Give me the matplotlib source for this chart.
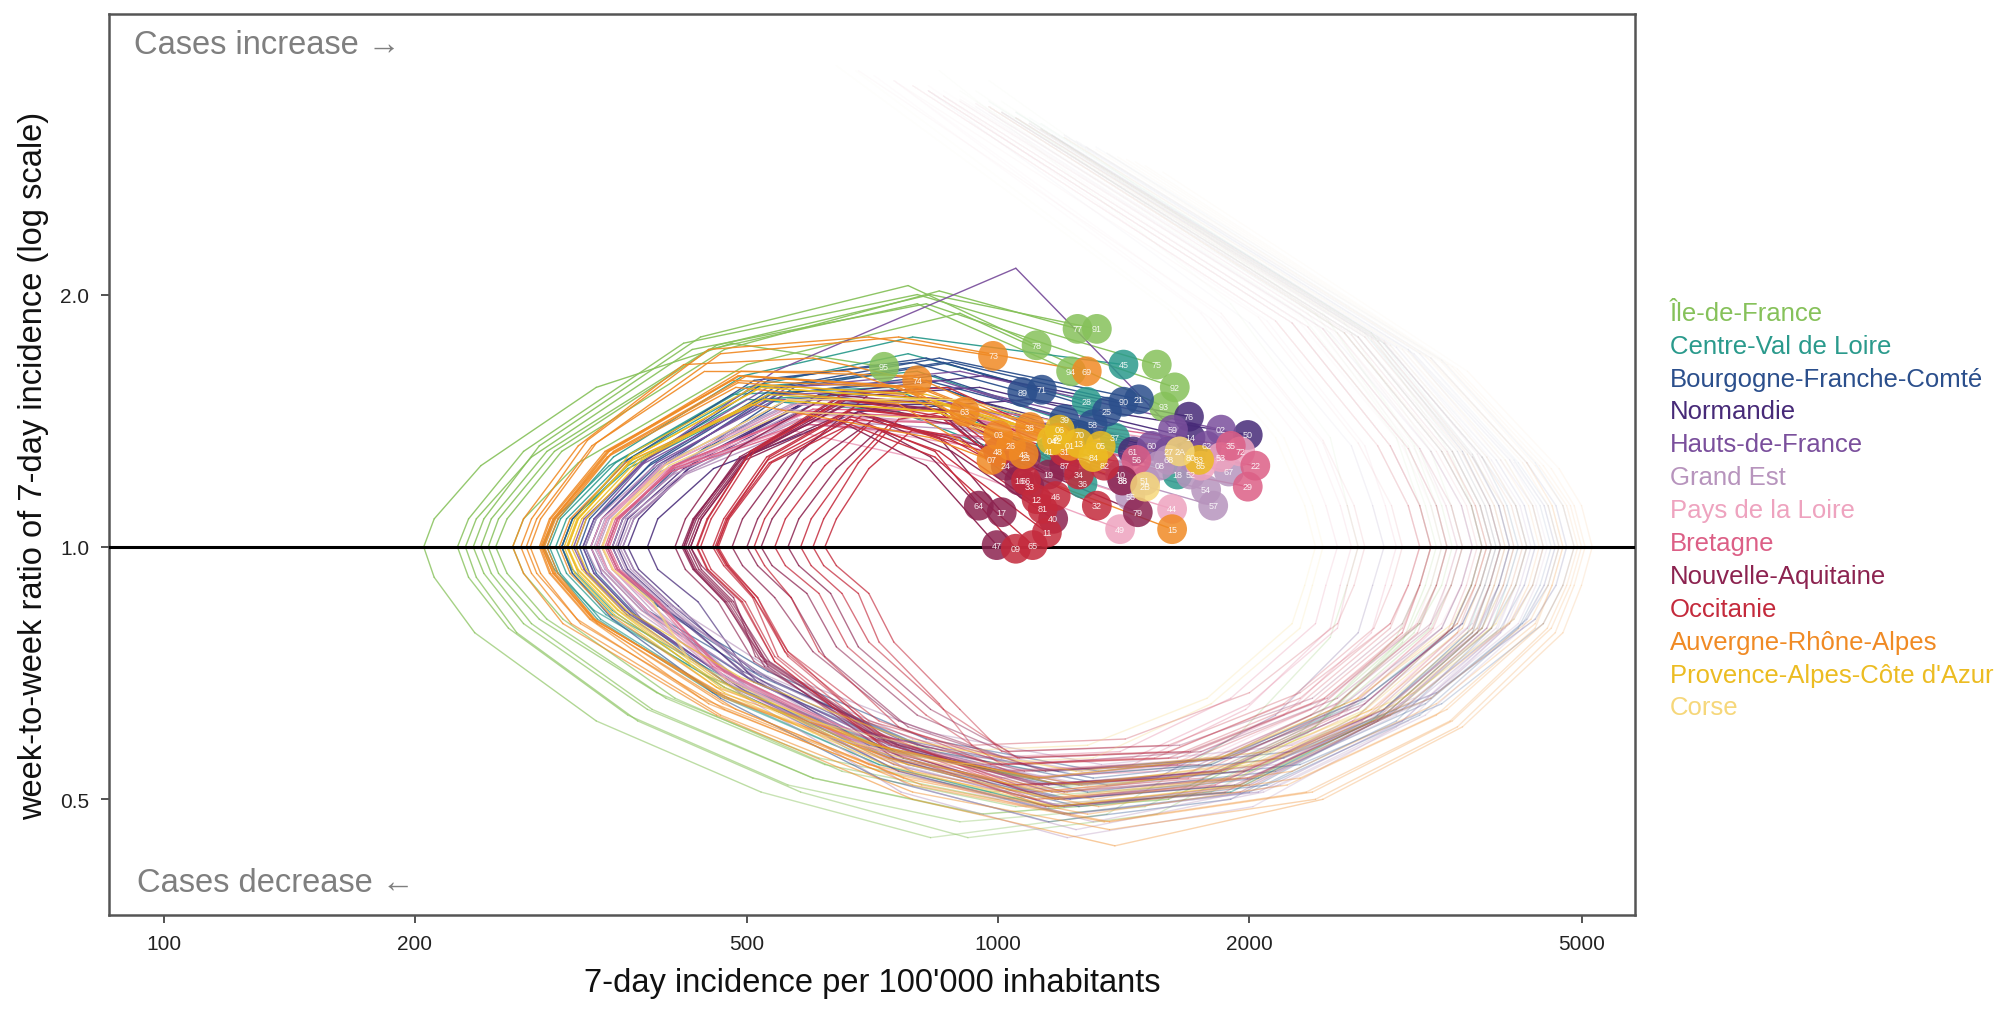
import numpy as np
import matplotlib
matplotlib.use("Agg")
import matplotlib.pyplot as plt
from matplotlib.collections import LineCollection
from matplotlib.colors import to_rgba
from matplotlib.ticker import NullLocator

plt.rcParams['font.family'] = ['Liberation Sans', 'DejaVu Sans']

# ---------------------------------------------------------------------------
# Trajectories per département: 7-day incidence per 100'000 and week-to-week
# ratio of the 7-day incidence, oldest point first, latest point last.
# ---------------------------------------------------------------------------

region_names = ["Île-de-France", "Centre-Val de Loire", "Bourgogne-Franche-Comté",
                "Normandie", "Hauts-de-France", "Grand Est", "Pays de la Loire",
                "Bretagne", "Nouvelle-Aquitaine", "Occitanie",
                "Auvergne-Rhône-Alpes", "Provence-Alpes-Côte d'Azur", "Corse"]
region_colors = ["#86c15a", "#2a9a8c", "#2b4f8c", "#472a78", "#7a4f9c", "#b794bd",
                 "#eea3bf", "#dc5f86", "#8c2350", "#c42a3c", "#f08a24", "#ecbc22",
                 "#f6d77a"]

idf_codes = ["75", "77", "78", "91", "92", "93", "94", "95"]
idf_incidence = [
    [900, 2300, 3000, 3200, 3300, 3200, 3000, 2300, 1500, 900, 560, 360, 259, 232, 225, 232, 270, 420, 800, 1549],
    [1050, 2600, 3300, 3490, 3600, 3490, 3300, 2500, 1700, 1000, 620, 400, 288, 258, 250, 258, 300, 470, 850, 1245],
    [975, 2400, 3100, 3300, 3400, 3300, 3100, 2400, 1600, 950, 600, 380, 270, 242, 235, 242, 282, 440, 780, 1112],
    [1010, 2500, 3200, 3400, 3500, 3400, 3200, 2450, 1650, 980, 610, 390, 282, 252, 245, 252, 294, 460, 830, 1313],
    [940, 2350, 3050, 3250, 3350, 3250, 3050, 2350, 1550, 920, 580, 370, 265, 237, 230, 237, 276, 430, 820, 1628],
    [1125, 2800, 3500, 3690, 3800, 3690, 3500, 2700, 1800, 1050, 650, 410, 301, 270, 262, 270, 314, 500, 900, 1580],
    [975, 2450, 3150, 3350, 3450, 3350, 3150, 2400, 1600, 960, 600, 385, 276, 247, 240, 247, 288, 450, 800, 1223],
    [850, 1900, 2500, 2620, 2700, 2620, 2500, 1950, 1350, 830, 520, 330, 236, 211, 205, 211, 240, 330, 480, 730],
]
idf_ratio = [
    [3.5, 1.9, 1.35, 1.12, 1.0, 0.9, 0.78, 0.60, 0.49, 0.47, 0.52, 0.63, 0.80, 0.92, 1.0, 1.08, 1.30, 1.75, 2.00, 1.65],
    [3.3, 1.85, 1.30, 1.12, 1.0, 0.9, 0.80, 0.63, 0.52, 0.50, 0.55, 0.66, 0.82, 0.93, 1.0, 1.08, 1.30, 1.72, 2.02, 1.82],
    [3.6, 1.9, 1.32, 1.12, 1.0, 0.9, 0.79, 0.61, 0.50, 0.48, 0.53, 0.64, 0.81, 0.93, 1.0, 1.08, 1.32, 1.78, 2.05, 1.74],
    [3.4, 1.85, 1.30, 1.12, 1.0, 0.9, 0.81, 0.64, 0.53, 0.51, 0.56, 0.67, 0.82, 0.93, 1.0, 1.08, 1.30, 1.74, 2.00, 1.82],
    [3.5, 1.9, 1.34, 1.12, 1.0, 0.9, 0.77, 0.60, 0.48, 0.45, 0.51, 0.62, 0.79, 0.92, 1.0, 1.08, 1.28, 1.72, 1.95, 1.55],
    [3.2, 1.8, 1.28, 1.12, 1.0, 0.9, 0.80, 0.63, 0.51, 0.49, 0.54, 0.66, 0.82, 0.93, 1.0, 1.08, 1.26, 1.65, 1.90, 1.47],
    [3.4, 1.9, 1.32, 1.12, 1.0, 0.9, 0.79, 0.61, 0.50, 0.48, 0.53, 0.64, 0.81, 0.93, 1.0, 1.08, 1.30, 1.72, 1.95, 1.62],
    [3.7, 1.95, 1.35, 1.12, 1.0, 0.9, 0.78, 0.60, 0.48, 0.45, 0.51, 0.62, 0.79, 0.92, 1.0, 1.08, 1.25, 1.55, 1.75, 1.64],
]

cvl_codes = ["18", "28", "36", "37", "41", "45"]
cvl_incidence = [
    [1125, 2900, 3800, 4070, 4200, 4070, 3900, 3000, 2000, 1200, 750, 480, 345, 309, 300, 309, 360, 520, 850, 1640],
    [1050, 2800, 3600, 3880, 4000, 3880, 3700, 2800, 1900, 1150, 720, 460, 334, 299, 290, 299, 348, 500, 780, 1277],
    [975, 2600, 3400, 3690, 3800, 3690, 3500, 2700, 1800, 1100, 700, 450, 345, 309, 300, 309, 360, 500, 760, 1262],
    [1090, 2850, 3700, 3980, 4100, 3980, 3800, 2900, 1950, 1180, 740, 470, 339, 304, 295, 304, 354, 510, 800, 1380],
    [1010, 2700, 3500, 3780, 3900, 3780, 3600, 2750, 1850, 1120, 700, 450, 328, 294, 285, 294, 342, 480, 740, 1150],
    [1050, 2750, 3550, 3830, 3950, 3830, 3650, 2800, 1900, 1150, 720, 455, 331, 297, 288, 297, 346, 495, 790, 1413],
]
cvl_ratio = [
    [3.2, 1.75, 1.28, 1.12, 1.0, 0.9, 0.80, 0.64, 0.54, 0.52, 0.57, 0.69, 0.83, 0.93, 1.0, 1.08, 1.24, 1.50, 1.55, 1.22],
    [3.3, 1.8, 1.30, 1.12, 1.0, 0.9, 0.79, 0.62, 0.51, 0.49, 0.55, 0.67, 0.82, 0.93, 1.0, 1.08, 1.26, 1.55, 1.70, 1.49],
    [3.4, 1.8, 1.30, 1.12, 1.0, 0.9, 0.80, 0.65, 0.55, 0.53, 0.58, 0.70, 0.84, 0.94, 1.0, 1.08, 1.25, 1.50, 1.45, 1.19],
    [3.25, 1.78, 1.29, 1.12, 1.0, 0.9, 0.80, 0.63, 0.52, 0.50, 0.56, 0.68, 0.83, 0.93, 1.0, 1.08, 1.26, 1.55, 1.62, 1.35],
    [3.3, 1.78, 1.30, 1.12, 1.0, 0.9, 0.81, 0.66, 0.56, 0.54, 0.59, 0.70, 0.84, 0.94, 1.0, 1.08, 1.25, 1.52, 1.55, 1.30],
    [3.3, 1.8, 1.30, 1.12, 1.0, 0.9, 0.79, 0.62, 0.51, 0.49, 0.55, 0.67, 0.82, 0.93, 1.0, 1.08, 1.28, 1.60, 1.78, 1.65],
]

bfc_codes = ["21", "25", "39", "58", "70", "71", "89", "90"]
bfc_incidence = [
    [1200, 3100, 4100, 4460, 4600, 4460, 4200, 3200, 2100, 1250, 780, 500, 368, 330, 320, 330, 384, 540, 850, 1475],
    [1275, 3200, 4200, 4560, 4700, 4560, 4300, 3300, 2200, 1300, 800, 520, 380, 340, 330, 340, 396, 550, 860, 1350],
    [1240, 3150, 4150, 4510, 4650, 4510, 4250, 3250, 2150, 1280, 790, 510, 374, 335, 325, 335, 390, 545, 840, 1200],
    [1125, 2900, 3800, 4170, 4300, 4170, 3900, 3000, 2000, 1200, 760, 490, 366, 328, 318, 328, 382, 530, 820, 1298],
    [1310, 3300, 4300, 4660, 4800, 4660, 4400, 3350, 2250, 1320, 820, 530, 391, 350, 340, 350, 408, 560, 850, 1250],
    [1160, 3000, 3950, 4270, 4400, 4270, 4000, 3050, 2050, 1220, 770, 495, 362, 324, 315, 324, 378, 530, 820, 1128],
    [1090, 2800, 3700, 3980, 4100, 3980, 3750, 2850, 1900, 1150, 720, 465, 345, 309, 300, 309, 360, 510, 790, 1069],
    [1350, 3400, 4400, 4750, 4900, 4750, 4500, 3400, 2300, 1350, 840, 540, 397, 355, 345, 355, 414, 570, 880, 1413],
]
bfc_ratio = [
    [3.1, 1.72, 1.27, 1.12, 1.0, 0.9, 0.80, 0.63, 0.52, 0.49, 0.55, 0.67, 0.83, 0.93, 1.0, 1.08, 1.26, 1.55, 1.68, 1.50],
    [3.0, 1.7, 1.26, 1.12, 1.0, 0.9, 0.82, 0.66, 0.56, 0.53, 0.58, 0.70, 0.84, 0.94, 1.0, 1.08, 1.25, 1.55, 1.66, 1.45],
    [3.05, 1.7, 1.27, 1.12, 1.0, 0.9, 0.81, 0.65, 0.54, 0.51, 0.57, 0.69, 0.84, 0.94, 1.0, 1.08, 1.25, 1.52, 1.60, 1.42],
    [3.15, 1.75, 1.28, 1.12, 1.0, 0.9, 0.80, 0.62, 0.51, 0.48, 0.54, 0.67, 0.83, 0.93, 1.0, 1.08, 1.25, 1.52, 1.58, 1.40],
    [3.0, 1.68, 1.26, 1.12, 1.0, 0.9, 0.82, 0.67, 0.57, 0.54, 0.59, 0.71, 0.85, 0.94, 1.0, 1.08, 1.24, 1.50, 1.55, 1.36],
    [3.1, 1.73, 1.27, 1.12, 1.0, 0.9, 0.80, 0.64, 0.53, 0.50, 0.56, 0.68, 0.83, 0.93, 1.0, 1.08, 1.27, 1.58, 1.68, 1.54],
    [3.2, 1.76, 1.28, 1.12, 1.0, 0.9, 0.79, 0.62, 0.50, 0.47, 0.53, 0.66, 0.82, 0.93, 1.0, 1.08, 1.27, 1.58, 1.66, 1.53],
    [2.95, 1.67, 1.26, 1.12, 1.0, 0.9, 0.81, 0.65, 0.55, 0.52, 0.57, 0.69, 0.84, 0.94, 1.0, 1.08, 1.25, 1.55, 1.66, 1.49],
]

nor_codes = ["14", "27", "50", "61", "76"]
nor_incidence = [
    [975, 2600, 3400, 3690, 3800, 3690, 3500, 2700, 1850, 1150, 740, 500, 402, 360, 350, 360, 420, 600, 950, 1700],
    [1010, 2700, 3500, 3780, 3900, 3780, 3600, 2750, 1900, 1180, 760, 510, 408, 366, 355, 366, 426, 600, 930, 1600],
    [825, 2000, 2650, 2810, 2900, 2810, 2700, 2150, 1550, 1030, 700, 500, 437, 391, 380, 391, 456, 680, 1100, 1991],
    [940, 2500, 3300, 3590, 3700, 3590, 3400, 2600, 1800, 1120, 730, 495, 397, 355, 345, 355, 414, 580, 900, 1450],
    [1050, 2800, 3600, 3880, 4000, 3880, 3700, 2850, 1950, 1200, 770, 515, 414, 371, 360, 371, 432, 610, 960, 1693],
]
nor_ratio = [
    [3.3, 1.8, 1.30, 1.12, 1.0, 0.9, 0.80, 0.64, 0.54, 0.52, 0.58, 0.70, 0.85, 0.94, 1.0, 1.08, 1.24, 1.50, 1.55, 1.35],
    [3.3, 1.78, 1.30, 1.12, 1.0, 0.9, 0.81, 0.66, 0.56, 0.54, 0.59, 0.71, 0.85, 0.94, 1.0, 1.08, 1.24, 1.48, 1.50, 1.30],
    [3.5, 1.85, 1.32, 1.12, 1.0, 0.9, 0.79, 0.63, 0.53, 0.52, 0.58, 0.71, 0.86, 0.94, 1.0, 1.08, 1.24, 1.45, 1.50, 1.36],
    [3.35, 1.8, 1.30, 1.12, 1.0, 0.9, 0.80, 0.65, 0.55, 0.53, 0.59, 0.71, 0.85, 0.94, 1.0, 1.08, 1.24, 1.48, 1.48, 1.30],
    [3.25, 1.78, 1.30, 1.12, 1.0, 0.9, 0.80, 0.63, 0.52, 0.50, 0.56, 0.69, 0.85, 0.94, 1.0, 1.08, 1.26, 1.52, 1.60, 1.43],
]

hdf_codes = ["02", "59", "60", "62", "80"]
hdf_incidence = [
    [1200, 3100, 4000, 4370, 4500, 4370, 4100, 3150, 2100, 1250, 780, 510, 380, 340, 330, 340, 396, 560, 900, 1850],
    [1125, 2900, 3800, 4070, 4200, 4070, 3850, 2950, 2000, 1200, 750, 490, 366, 328, 318, 328, 382, 540, 1050, 1620],
    [1090, 2850, 3700, 3980, 4100, 3980, 3750, 2900, 1950, 1180, 740, 480, 359, 321, 312, 321, 374, 530, 850, 1528],
    [1160, 3000, 3900, 4220, 4350, 4220, 4000, 3050, 2050, 1220, 760, 500, 374, 335, 325, 335, 390, 555, 900, 1778],
    [1010, 2700, 3500, 3780, 3900, 3780, 3600, 2750, 1850, 1120, 710, 470, 357, 319, 310, 319, 372, 525, 840, 1700],
]
hdf_ratio = [
    [3.1, 1.72, 1.27, 1.12, 1.0, 0.9, 0.81, 0.65, 0.55, 0.52, 0.57, 0.69, 0.84, 0.94, 1.0, 1.08, 1.26, 1.55, 1.62, 1.38],
    [3.15, 1.75, 1.28, 1.12, 1.0, 0.9, 0.80, 0.63, 0.52, 0.49, 0.55, 0.68, 0.83, 0.93, 1.0, 1.08, 1.28, 1.62, 2.15, 1.38],
    [3.2, 1.76, 1.28, 1.12, 1.0, 0.9, 0.80, 0.64, 0.53, 0.50, 0.56, 0.68, 0.83, 0.93, 1.0, 1.08, 1.26, 1.55, 1.58, 1.32],
    [3.1, 1.73, 1.27, 1.12, 1.0, 0.9, 0.79, 0.62, 0.51, 0.48, 0.54, 0.67, 0.82, 0.93, 1.0, 1.08, 1.26, 1.52, 1.55, 1.32],
    [3.3, 1.78, 1.30, 1.12, 1.0, 0.9, 0.81, 0.66, 0.56, 0.53, 0.58, 0.70, 0.84, 0.94, 1.0, 1.08, 1.25, 1.50, 1.50, 1.28],
]

ge_codes = ["08", "10", "51", "52", "54", "55", "57", "67", "68", "88"]
ge_incidence = [
    [1125, 2950, 3850, 4170, 4300, 4170, 3950, 3000, 2000, 1200, 760, 500, 385, 345, 335, 345, 402, 570, 900, 1560],
    [1050, 2750, 3600, 3880, 4000, 3880, 3700, 2800, 1900, 1150, 730, 480, 368, 330, 320, 330, 384, 545, 860, 1400],
    [1090, 2850, 3700, 4030, 4150, 4030, 3800, 2900, 1950, 1180, 745, 490, 377, 338, 328, 338, 394, 558, 880, 1500],
    [1275, 3300, 4300, 4660, 4800, 4660, 4400, 3350, 2250, 1330, 830, 540, 408, 366, 355, 366, 426, 590, 930, 1700],
    [1160, 3050, 3950, 4270, 4400, 4270, 4050, 3100, 2080, 1240, 780, 510, 391, 350, 340, 350, 408, 575, 910, 1775],
    [1200, 3150, 4100, 4410, 4550, 4410, 4200, 3200, 2150, 1280, 800, 525, 400, 358, 348, 358, 418, 580, 890, 1440],
    [1240, 3200, 4150, 4510, 4650, 4510, 4250, 3250, 2180, 1300, 810, 530, 405, 363, 352, 363, 422, 590, 940, 1810],
    [1125, 2950, 3850, 4170, 4300, 4170, 3950, 3000, 2020, 1210, 765, 500, 382, 342, 332, 342, 398, 565, 900, 1890],
    [1090, 2900, 3800, 4120, 4250, 4120, 3900, 2980, 2000, 1200, 755, 495, 380, 340, 330, 340, 396, 560, 890, 1600],
    [1200, 3100, 4050, 4370, 4500, 4370, 4150, 3150, 2120, 1260, 790, 515, 397, 355, 345, 355, 414, 575, 900, 1409],
]
ge_ratio = [
    [3.15, 1.74, 1.28, 1.12, 1.0, 0.9, 0.80, 0.63, 0.52, 0.49, 0.55, 0.68, 0.84, 0.94, 1.0, 1.08, 1.24, 1.48, 1.45, 1.25],
    [3.25, 1.78, 1.29, 1.12, 1.0, 0.9, 0.81, 0.66, 0.56, 0.53, 0.58, 0.70, 0.84, 0.94, 1.0, 1.08, 1.24, 1.46, 1.42, 1.22],
    [3.2, 1.76, 1.28, 1.12, 1.0, 0.9, 0.80, 0.64, 0.54, 0.51, 0.56, 0.69, 0.84, 0.94, 1.0, 1.08, 1.23, 1.45, 1.40, 1.20],
    [3.0, 1.68, 1.26, 1.12, 1.0, 0.9, 0.82, 0.67, 0.58, 0.55, 0.60, 0.71, 0.85, 0.94, 1.0, 1.08, 1.23, 1.45, 1.42, 1.22],
    [3.1, 1.72, 1.27, 1.12, 1.0, 0.9, 0.80, 0.62, 0.51, 0.46, 0.52, 0.67, 0.84, 0.94, 1.0, 1.08, 1.22, 1.42, 1.38, 1.17],
    [3.08, 1.7, 1.27, 1.12, 1.0, 0.9, 0.81, 0.65, 0.55, 0.52, 0.57, 0.70, 0.85, 0.94, 1.0, 1.08, 1.22, 1.42, 1.35, 1.15],
    [3.05, 1.7, 1.26, 1.12, 1.0, 0.9, 0.80, 0.63, 0.52, 0.47, 0.53, 0.68, 0.85, 0.94, 1.0, 1.08, 1.22, 1.40, 1.35, 1.12],
    [3.15, 1.74, 1.28, 1.12, 1.0, 0.9, 0.79, 0.61, 0.49, 0.45, 0.51, 0.66, 0.83, 0.93, 1.0, 1.08, 1.25, 1.48, 1.45, 1.23],
    [3.2, 1.75, 1.28, 1.12, 1.0, 0.9, 0.80, 0.64, 0.53, 0.50, 0.56, 0.69, 0.84, 0.94, 1.0, 1.08, 1.25, 1.50, 1.48, 1.27],
    [3.08, 1.71, 1.27, 1.12, 1.0, 0.9, 0.82, 0.66, 0.57, 0.54, 0.59, 0.71, 0.85, 0.94, 1.0, 1.08, 1.24, 1.45, 1.40, 1.20],
]

pdl_codes = ["44", "49", "53", "72", "85"]
pdl_incidence = [
    [975, 2600, 3400, 3690, 3800, 3690, 3500, 2700, 1850, 1130, 720, 480, 380, 340, 330, 340, 396, 580, 920, 1616],
    [940, 2500, 3300, 3590, 3700, 3590, 3400, 2650, 1800, 1100, 700, 470, 374, 335, 325, 335, 390, 560, 880, 1400],
    [900, 2400, 3150, 3440, 3550, 3440, 3300, 2550, 1750, 1080, 700, 475, 385, 345, 335, 345, 402, 590, 940, 1850],
    [1010, 2700, 3500, 3780, 3900, 3780, 3600, 2750, 1880, 1150, 730, 485, 380, 340, 330, 340, 396, 575, 930, 1950],
    [860, 2300, 3050, 3300, 3400, 3300, 3150, 2450, 1700, 1060, 690, 470, 385, 345, 335, 345, 402, 585, 930, 1750],
]
pdl_ratio = [
    [3.35, 1.8, 1.30, 1.12, 1.0, 0.9, 0.80, 0.64, 0.54, 0.51, 0.57, 0.69, 0.84, 0.94, 1.0, 1.08, 1.23, 1.42, 1.32, 1.11],
    [3.4, 1.82, 1.30, 1.12, 1.0, 0.9, 0.81, 0.66, 0.56, 0.54, 0.59, 0.70, 0.84, 0.94, 1.0, 1.08, 1.22, 1.38, 1.25, 1.05],
    [3.45, 1.83, 1.31, 1.12, 1.0, 0.9, 0.79, 0.62, 0.51, 0.49, 0.55, 0.69, 0.85, 0.94, 1.0, 1.08, 1.24, 1.45, 1.42, 1.28],
    [3.3, 1.78, 1.30, 1.12, 1.0, 0.9, 0.80, 0.63, 0.52, 0.50, 0.56, 0.69, 0.84, 0.94, 1.0, 1.08, 1.25, 1.48, 1.45, 1.30],
    [3.5, 1.85, 1.32, 1.12, 1.0, 0.9, 0.80, 0.65, 0.55, 0.53, 0.58, 0.70, 0.85, 0.94, 1.0, 1.08, 1.24, 1.44, 1.40, 1.25],
]

bre_codes = ["22", "29", "35", "56"]
bre_incidence = [
    [750, 1850, 2450, 2620, 2700, 2620, 2550, 2000, 1450, 960, 660, 460, 391, 350, 340, 350, 408, 600, 1000, 2033],
    [710, 1750, 2300, 2470, 2550, 2470, 2400, 1900, 1400, 940, 650, 455, 389, 348, 338, 348, 406, 595, 990, 1991],
    [825, 2100, 2750, 2910, 3000, 2910, 2800, 2200, 1550, 1010, 680, 470, 391, 350, 340, 350, 408, 600, 990, 1900],
    [750, 1800, 2400, 2570, 2650, 2570, 2500, 1980, 1450, 970, 665, 462, 393, 352, 342, 352, 410, 590, 940, 1464],
]
bre_ratio = [
    [3.6, 1.88, 1.33, 1.12, 1.0, 0.9, 0.80, 0.65, 0.56, 0.55, 0.60, 0.72, 0.86, 0.94, 1.0, 1.08, 1.24, 1.42, 1.40, 1.25],
    [3.65, 1.9, 1.34, 1.12, 1.0, 0.9, 0.81, 0.66, 0.57, 0.56, 0.61, 0.72, 0.86, 0.94, 1.0, 1.08, 1.23, 1.40, 1.35, 1.18],
    [3.55, 1.86, 1.32, 1.12, 1.0, 0.9, 0.79, 0.63, 0.54, 0.53, 0.58, 0.71, 0.86, 0.94, 1.0, 1.08, 1.25, 1.46, 1.45, 1.32],
    [3.6, 1.87, 1.33, 1.12, 1.0, 0.9, 0.80, 0.64, 0.55, 0.54, 0.59, 0.72, 0.86, 0.94, 1.0, 1.08, 1.25, 1.45, 1.42, 1.27],
]

na_codes = ["16", "17", "19", "23", "24", "33", "40", "47", "64", "79", "86", "87"]
na_incidence = [
    [975, 2600, 3400, 3690, 3800, 3690, 3500, 2700, 1850, 1130, 730, 520, 470, 432, 420, 432, 490, 640, 850, 1060],
    [900, 2450, 3200, 3490, 3600, 3490, 3300, 2550, 1750, 1080, 760, 600, 540, 494, 480, 494, 560, 680, 850, 1010],
    [1010, 2700, 3550, 3830, 3950, 3830, 3650, 2800, 1900, 1160, 745, 525, 473, 433, 420, 433, 490, 650, 880, 1150],
    [975, 2650, 3450, 3730, 3850, 3730, 3550, 2750, 1870, 1140, 780, 620, 565, 515, 500, 515, 580, 700, 880, 1080],
    [940, 2550, 3300, 3590, 3700, 3590, 3400, 2620, 1800, 1110, 720, 510, 462, 422, 410, 422, 480, 630, 840, 1021],
    [1050, 2800, 3650, 3930, 4050, 3930, 3750, 2850, 1950, 1180, 750, 530, 482, 441, 428, 441, 500, 655, 880, 1090],
    [860, 2350, 3100, 3350, 3450, 3350, 3200, 2480, 1700, 1060, 800, 640, 590, 536, 520, 536, 600, 710, 880, 1164],
    [900, 2450, 3200, 3440, 3550, 3440, 3280, 2540, 1740, 1075, 705, 512, 482, 441, 428, 441, 498, 640, 820, 996],
    [825, 2250, 2950, 3200, 3300, 3200, 3050, 2380, 1650, 1030, 830, 680, 630, 577, 560, 577, 640, 720, 830, 948],
    [1010, 2750, 3600, 3880, 4000, 3880, 3700, 2820, 1920, 1170, 750, 525, 471, 431, 418, 431, 490, 660, 950, 1470],
    [1050, 2850, 3700, 3980, 4100, 3980, 3800, 2900, 1970, 1190, 755, 528, 476, 435, 422, 435, 495, 660, 940, 1409],
    [1090, 2900, 3750, 4030, 4150, 4030, 3850, 2930, 1990, 1200, 760, 532, 479, 438, 425, 438, 498, 660, 900, 1200],
]
na_ratio = [
    [3.35, 1.8, 1.30, 1.12, 1.0, 0.9, 0.80, 0.64, 0.54, 0.52, 0.59, 0.74, 0.86, 0.94, 1.0, 1.08, 1.27, 1.50, 1.45, 1.20],
    [3.4, 1.82, 1.31, 1.12, 1.0, 0.9, 0.81, 0.66, 0.57, 0.55, 0.62, 0.75, 0.87, 0.95, 1.0, 1.08, 1.28, 1.45, 1.35, 1.10],
    [3.3, 1.78, 1.30, 1.12, 1.0, 0.9, 0.80, 0.63, 0.53, 0.51, 0.58, 0.73, 0.86, 0.94, 1.0, 1.08, 1.28, 1.50, 1.45, 1.22],
    [3.35, 1.79, 1.30, 1.12, 1.0, 0.9, 0.81, 0.65, 0.56, 0.54, 0.61, 0.74, 0.87, 0.95, 1.0, 1.08, 1.30, 1.52, 1.50, 1.28],
    [3.38, 1.8, 1.30, 1.12, 1.0, 0.9, 0.80, 0.64, 0.54, 0.52, 0.59, 0.73, 0.86, 0.94, 1.0, 1.08, 1.30, 1.52, 1.48, 1.25],
    [3.25, 1.77, 1.29, 1.12, 1.0, 0.9, 0.79, 0.62, 0.51, 0.49, 0.56, 0.72, 0.86, 0.94, 1.0, 1.08, 1.28, 1.48, 1.40, 1.18],
    [3.45, 1.83, 1.31, 1.12, 1.0, 0.9, 0.81, 0.66, 0.57, 0.56, 0.63, 0.76, 0.88, 0.95, 1.0, 1.08, 1.26, 1.42, 1.30, 1.08],
    [3.42, 1.82, 1.31, 1.12, 1.0, 0.9, 0.80, 0.65, 0.55, 0.54, 0.60, 0.74, 0.87, 0.95, 1.0, 1.08, 1.27, 1.42, 1.25, 1.005],
    [3.5, 1.85, 1.32, 1.12, 1.0, 0.9, 0.81, 0.66, 0.58, 0.57, 0.64, 0.76, 0.88, 0.95, 1.0, 1.08, 1.24, 1.38, 1.28, 1.12],
    [3.3, 1.78, 1.30, 1.12, 1.0, 0.9, 0.79, 0.62, 0.52, 0.50, 0.57, 0.72, 0.86, 0.94, 1.0, 1.08, 1.27, 1.45, 1.32, 1.10],
    [3.25, 1.76, 1.29, 1.12, 1.0, 0.9, 0.80, 0.64, 0.54, 0.52, 0.58, 0.73, 0.86, 0.94, 1.0, 1.08, 1.28, 1.48, 1.40, 1.20],
    [3.22, 1.76, 1.29, 1.12, 1.0, 0.9, 0.80, 0.63, 0.53, 0.51, 0.58, 0.73, 0.86, 0.94, 1.0, 1.08, 1.28, 1.50, 1.45, 1.25],
]

occ_codes = ["09", "11", "12", "30", "31", "32", "34", "46", "48", "65", "66", "81", "82"]
occ_incidence = [
    [790, 2150, 2850, 3100, 3200, 3100, 2950, 2300, 1600, 1010, 820, 660, 610, 556, 540, 556, 620, 700, 840, 1050],
    [825, 2250, 2950, 3200, 3300, 3200, 3050, 2370, 1640, 1030, 720, 560, 510, 474, 460, 474, 532, 665, 850, 1144],
    [860, 2350, 3100, 3350, 3450, 3350, 3180, 2460, 1690, 1055, 860, 700, 650, 597, 580, 597, 660, 740, 900, 1112],
    [940, 2550, 3350, 3640, 3750, 3640, 3450, 2660, 1820, 1110, 725, 540, 492, 448, 435, 448, 505, 650, 870, 1180],
    [900, 2450, 3200, 3490, 3600, 3490, 3320, 2560, 1760, 1085, 712, 540, 498, 453, 440, 453, 510, 650, 880, 1200],
    [790, 2150, 2850, 3100, 3200, 3100, 2950, 2300, 1600, 1010, 900, 750, 700, 640, 620, 640, 700, 790, 960, 1313],
    [975, 2650, 3450, 3730, 3850, 3730, 3550, 2730, 1870, 1140, 740, 540, 494, 449, 436, 449, 505, 655, 890, 1250],
    [825, 2250, 2950, 3200, 3300, 3200, 3050, 2370, 1640, 1030, 720, 560, 510, 472, 458, 472, 530, 665, 870, 1172],
    [680, 1850, 2450, 2670, 2750, 2670, 2550, 2000, 1420, 930, 850, 720, 680, 618, 600, 618, 680, 760, 870, 1000],
    [750, 2050, 2700, 2960, 3050, 2960, 2820, 2200, 1540, 980, 690, 560, 515, 476, 462, 476, 535, 665, 840, 1100],
    [860, 2350, 3100, 3350, 3450, 3350, 3180, 2460, 1690, 1055, 712, 545, 508, 469, 455, 469, 528, 665, 860, 1080],
    [825, 2250, 2950, 3200, 3300, 3200, 3050, 2370, 1640, 1030, 760, 610, 565, 525, 510, 525, 585, 690, 860, 1131],
    [790, 2150, 2850, 3100, 3200, 3100, 2950, 2300, 1600, 1010, 700, 555, 515, 474, 460, 474, 532, 670, 900, 1340],
]
occ_ratio = [
    [3.55, 1.86, 1.32, 1.12, 1.0, 0.9, 0.80, 0.65, 0.56, 0.55, 0.63, 0.76, 0.88, 0.95, 1.0, 1.08, 1.25, 1.40, 1.30, 0.995],
    [3.5, 1.85, 1.32, 1.12, 1.0, 0.9, 0.79, 0.63, 0.53, 0.52, 0.60, 0.74, 0.87, 0.95, 1.0, 1.08, 1.26, 1.42, 1.30, 1.04],
    [3.45, 1.83, 1.31, 1.12, 1.0, 0.9, 0.81, 0.66, 0.57, 0.56, 0.64, 0.77, 0.88, 0.95, 1.0, 1.08, 1.24, 1.40, 1.35, 1.14],
    [3.38, 1.8, 1.30, 1.12, 1.0, 0.9, 0.79, 0.62, 0.52, 0.50, 0.58, 0.73, 0.86, 0.94, 1.0, 1.08, 1.30, 1.52, 1.55, 1.35],
    [3.4, 1.82, 1.31, 1.12, 1.0, 0.9, 0.80, 0.63, 0.53, 0.51, 0.59, 0.74, 0.86, 0.94, 1.0, 1.08, 1.30, 1.50, 1.48, 1.30],
    [3.55, 1.86, 1.32, 1.12, 1.0, 0.9, 0.81, 0.67, 0.58, 0.57, 0.64, 0.77, 0.88, 0.95, 1.0, 1.08, 1.24, 1.38, 1.30, 1.12],
    [3.35, 1.79, 1.30, 1.12, 1.0, 0.9, 0.79, 0.62, 0.51, 0.49, 0.57, 0.73, 0.86, 0.94, 1.0, 1.08, 1.30, 1.50, 1.42, 1.22],
    [3.5, 1.85, 1.32, 1.12, 1.0, 0.9, 0.80, 0.65, 0.56, 0.55, 0.62, 0.75, 0.87, 0.95, 1.0, 1.08, 1.27, 1.43, 1.35, 1.15],
    [3.7, 1.9, 1.34, 1.12, 1.0, 0.9, 0.81, 0.67, 0.59, 0.58, 0.65, 0.77, 0.88, 0.95, 1.0, 1.08, 1.26, 1.42, 1.45, 1.30],
    [3.6, 1.88, 1.33, 1.12, 1.0, 0.9, 0.80, 0.65, 0.56, 0.55, 0.62, 0.75, 0.87, 0.95, 1.0, 1.08, 1.26, 1.40, 1.28, 1.005],
    [3.45, 1.83, 1.31, 1.12, 1.0, 0.9, 0.79, 0.63, 0.53, 0.52, 0.60, 0.74, 0.87, 0.95, 1.0, 1.08, 1.28, 1.46, 1.42, 1.20],
    [3.5, 1.85, 1.32, 1.12, 1.0, 0.9, 0.79, 0.64, 0.55, 0.54, 0.61, 0.75, 0.87, 0.95, 1.0, 1.08, 1.27, 1.44, 1.34, 1.11],
    [3.55, 1.86, 1.32, 1.12, 1.0, 0.9, 0.81, 0.66, 0.57, 0.56, 0.62, 0.75, 0.87, 0.95, 1.0, 1.08, 1.28, 1.46, 1.42, 1.25],
]

ara_codes = ["01", "03", "07", "15", "26", "38", "42", "43", "63", "69", "73", "74"]
ara_incidence = [
    [1350, 3300, 4300, 4610, 4750, 4610, 4400, 3350, 2250, 1300, 780, 470, 328, 294, 285, 294, 342, 490, 800, 1219],
    [1125, 2900, 3800, 4120, 4250, 4120, 3900, 2950, 1980, 1170, 720, 450, 324, 290, 282, 290, 338, 480, 760, 1000],
    [1275, 3250, 4250, 4560, 4700, 4560, 4350, 3300, 2180, 1260, 760, 465, 327, 293, 284, 293, 340, 485, 760, 982],
    [975, 2600, 3450, 3730, 3850, 3730, 3550, 2700, 1850, 1120, 710, 460, 343, 307, 298, 307, 358, 505, 830, 1616],
    [1310, 3300, 4300, 4610, 4750, 4610, 4400, 3350, 2220, 1280, 770, 468, 325, 291, 283, 291, 340, 488, 780, 1036],
    [1390, 3400, 4400, 4750, 4900, 4750, 4500, 3450, 2300, 1320, 790, 475, 327, 293, 284, 293, 341, 492, 790, 1092],
    [1460, 3500, 4500, 4850, 5000, 4850, 4600, 3500, 2380, 1360, 810, 485, 331, 297, 288, 297, 346, 500, 810, 1176],
    [1200, 3050, 4000, 4320, 4450, 4320, 4100, 3100, 2060, 1210, 740, 458, 329, 295, 286, 295, 343, 488, 770, 1073],
    [1050, 2750, 3600, 3880, 4000, 3880, 3700, 2800, 1880, 1120, 700, 440, 313, 280, 272, 280, 326, 445, 660, 912],
    [1425, 3450, 4450, 4800, 4950, 4800, 4550, 3480, 2340, 1340, 790, 470, 316, 283, 275, 283, 330, 465, 760, 1277],
    [1500, 3550, 4600, 4900, 5050, 4900, 4650, 3550, 2400, 1360, 790, 465, 308, 276, 268, 276, 322, 450, 700, 986],
    [1575, 3650, 4700, 5000, 5150, 5000, 4750, 3600, 2450, 1380, 790, 460, 301, 270, 262, 270, 314, 420, 600, 800],
]
ara_ratio = [
    [2.95, 1.67, 1.26, 1.12, 1.0, 0.9, 0.81, 0.65, 0.54, 0.50, 0.55, 0.66, 0.82, 0.93, 1.0, 1.08, 1.30, 1.60, 1.55, 1.32],
    [3.15, 1.75, 1.28, 1.12, 1.0, 0.9, 0.80, 0.63, 0.52, 0.49, 0.54, 0.65, 0.82, 0.93, 1.0, 1.08, 1.30, 1.58, 1.55, 1.36],
    [3.0, 1.69, 1.26, 1.12, 1.0, 0.9, 0.82, 0.66, 0.56, 0.52, 0.57, 0.67, 0.82, 0.93, 1.0, 1.08, 1.28, 1.55, 1.48, 1.27],
    [3.35, 1.8, 1.29, 1.12, 1.0, 0.9, 0.81, 0.66, 0.56, 0.53, 0.58, 0.68, 0.83, 0.93, 1.0, 1.08, 1.26, 1.48, 1.35, 1.05],
    [2.98, 1.68, 1.26, 1.12, 1.0, 0.9, 0.80, 0.63, 0.52, 0.48, 0.53, 0.65, 0.82, 0.93, 1.0, 1.08, 1.30, 1.60, 1.55, 1.32],
    [2.92, 1.66, 1.25, 1.12, 1.0, 0.9, 0.81, 0.64, 0.53, 0.49, 0.54, 0.66, 0.82, 0.93, 1.0, 1.08, 1.30, 1.62, 1.60, 1.39],
    [2.88, 1.64, 1.25, 1.12, 1.0, 0.9, 0.80, 0.62, 0.51, 0.47, 0.52, 0.64, 0.81, 0.93, 1.0, 1.08, 1.30, 1.60, 1.55, 1.34],
    [3.08, 1.72, 1.27, 1.12, 1.0, 0.9, 0.81, 0.65, 0.55, 0.51, 0.56, 0.67, 0.82, 0.93, 1.0, 1.08, 1.29, 1.57, 1.52, 1.29],
    [3.25, 1.78, 1.29, 1.12, 1.0, 0.9, 0.80, 0.64, 0.53, 0.50, 0.55, 0.66, 0.82, 0.93, 1.0, 1.08, 1.32, 1.62, 1.62, 1.45],
    [2.9, 1.65, 1.25, 1.12, 1.0, 0.9, 0.80, 0.62, 0.51, 0.47, 0.52, 0.64, 0.81, 0.93, 1.0, 1.08, 1.33, 1.70, 1.78, 1.62],
    [2.85, 1.63, 1.24, 1.12, 1.0, 0.9, 0.79, 0.61, 0.50, 0.46, 0.51, 0.63, 0.81, 0.93, 1.0, 1.08, 1.34, 1.72, 1.78, 1.69],
    [2.8, 1.62, 1.24, 1.12, 1.0, 0.9, 0.79, 0.61, 0.50, 0.44, 0.50, 0.63, 0.81, 0.93, 1.0, 1.08, 1.32, 1.65, 1.68, 1.58],
]

paca_codes = ["04", "05", "06", "13", "83", "84"]
paca_incidence = [
    [975, 2600, 3400, 3690, 3800, 3690, 3500, 2700, 1840, 1110, 710, 465, 351, 314, 305, 314, 366, 520, 830, 1160],
    [1200, 3100, 4050, 4370, 4500, 4370, 4150, 3150, 2100, 1240, 770, 490, 359, 321, 312, 321, 374, 530, 850, 1327],
    [1090, 2850, 3700, 4030, 4150, 4030, 3800, 2900, 1950, 1170, 730, 470, 347, 311, 302, 311, 362, 515, 820, 1185],
    [1050, 2800, 3650, 3930, 4050, 3930, 3750, 2860, 1930, 1160, 725, 470, 351, 314, 305, 314, 366, 520, 830, 1249],
    [1010, 2700, 3500, 3780, 3900, 3780, 3600, 2760, 1870, 1130, 715, 465, 350, 313, 304, 313, 365, 525, 860, 1741],
    [1125, 2950, 3850, 4170, 4300, 4170, 3950, 3000, 2010, 1200, 750, 480, 354, 317, 308, 317, 370, 525, 840, 1300],
]
paca_ratio = [
    [3.35, 1.8, 1.30, 1.12, 1.0, 0.9, 0.81, 0.66, 0.56, 0.53, 0.58, 0.69, 0.84, 0.94, 1.0, 1.08, 1.28, 1.55, 1.50, 1.34],
    [3.08, 1.71, 1.27, 1.12, 1.0, 0.9, 0.82, 0.67, 0.57, 0.54, 0.59, 0.70, 0.84, 0.94, 1.0, 1.08, 1.27, 1.52, 1.48, 1.32],
    [3.2, 1.76, 1.28, 1.12, 1.0, 0.9, 0.80, 0.63, 0.52, 0.49, 0.55, 0.67, 0.83, 0.93, 1.0, 1.08, 1.29, 1.56, 1.52, 1.38],
    [3.25, 1.77, 1.29, 1.12, 1.0, 0.9, 0.80, 0.64, 0.53, 0.50, 0.56, 0.68, 0.83, 0.93, 1.0, 1.08, 1.28, 1.55, 1.50, 1.33],
    [3.3, 1.78, 1.30, 1.12, 1.0, 0.9, 0.80, 0.64, 0.54, 0.51, 0.57, 0.68, 0.84, 0.94, 1.0, 1.08, 1.27, 1.50, 1.45, 1.27],
    [3.15, 1.74, 1.28, 1.12, 1.0, 0.9, 0.81, 0.65, 0.55, 0.52, 0.57, 0.68, 0.84, 0.94, 1.0, 1.08, 1.27, 1.50, 1.45, 1.28],
]

cor_codes = ["2A", "2B"]
cor_incidence = [
    [675, 1650, 2200, 2380, 2450, 2380, 2300, 1800, 1300, 860, 600, 430, 385, 345, 335, 345, 402, 560, 900, 1650],
    [640, 1600, 2150, 2330, 2400, 2330, 2250, 1780, 1280, 850, 595, 428, 386, 346, 336, 346, 403, 560, 880, 1500],
]
cor_ratio = [
    [3.7, 1.9, 1.35, 1.12, 1.0, 0.9, 0.80, 0.65, 0.56, 0.55, 0.60, 0.72, 0.86, 0.94, 1.0, 1.08, 1.26, 1.50, 1.50, 1.30],
    [3.75, 1.92, 1.35, 1.12, 1.0, 0.9, 0.81, 0.66, 0.58, 0.57, 0.62, 0.73, 0.86, 0.94, 1.0, 1.08, 1.25, 1.45, 1.42, 1.18],
]

x_ticks = [100, 200, 500, 1000, 2000, 5000]
y_ticks = [0.5, 1.0, 2.0]
y_tick_labels = ["0.5", "1.0", "2.0"]

region_codes = [idf_codes, cvl_codes, bfc_codes, nor_codes, hdf_codes, ge_codes,
                pdl_codes, bre_codes, na_codes, occ_codes, ara_codes, paca_codes, cor_codes]
region_incidence = [idf_incidence, cvl_incidence, bfc_incidence, nor_incidence,
                    hdf_incidence, ge_incidence, pdl_incidence, bre_incidence,
                    na_incidence, occ_incidence, ara_incidence, paca_incidence,
                    cor_incidence]
region_ratio = [idf_ratio, cvl_ratio, bfc_ratio, nor_ratio, hdf_ratio, ge_ratio,
                pdl_ratio, bre_ratio, na_ratio, occ_ratio, ara_ratio, paca_ratio,
                cor_ratio]

# ---------------------------------------------------------------------------
fig = plt.figure(figsize=(20.08, 10.12), dpi=100)
ax = fig.add_axes([0.0542, 0.095, 0.7602, 0.890])
ax.set_xscale("log")
ax.set_yscale("log")
ax.set_xlim(86, 5800)
ax.set_ylim(0.364, 4.32)

# older parts of each path fade out
seg_alpha = np.array([0.018, 0.035, 0.06, 0.09, 0.12, 0.16, 0.21, 0.28, 0.36, 0.45,
                      0.55, 0.65, 0.74, 0.80, 0.85, 0.88, 0.91, 0.93, 0.95])

for color, incs, ratios in zip(region_colors, region_incidence, region_ratio):
    base = np.array(to_rgba(color))
    for inc, rat in zip(incs, ratios):
        pts = np.column_stack([inc, rat])
        segs = np.stack([pts[:-1], pts[1:]], axis=1)
        cols = np.tile(base, (len(segs), 1))
        cols[:, 3] = seg_alpha[:len(segs)]
        ax.add_collection(LineCollection(segs, colors=cols, linewidths=1.0,
                                         zorder=2, capstyle="round",
                                         joinstyle="round"))

ax.axhline(1.0, color="black", lw=2.2, zorder=3)

for color, codes, incs, ratios in zip(region_colors, region_codes,
                                      region_incidence, region_ratio):
    for code, inc, rat in zip(codes, incs, ratios):
        ax.scatter(inc[-1], rat[-1], s=460, color=color, alpha=0.85,
                   edgecolors="none", zorder=4)
        ax.text(inc[-1], rat[-1], code, color="white", fontsize=6.5,
                ha="center", va="center", zorder=5, alpha=0.9)

ax.set_xticks(x_ticks)
ax.set_xticklabels([str(t) for t in x_ticks])
ax.set_yticks(y_ticks)
ax.set_yticklabels(y_tick_labels)
ax.xaxis.set_minor_locator(NullLocator())
ax.yaxis.set_minor_locator(NullLocator())
ax.tick_params(axis="both", which="major", length=6, width=1.3, color="#444444",
               labelsize=15, labelcolor="#222222", pad=8)
for sp in ax.spines.values():
    sp.set_color("#555555")
    sp.set_linewidth(1.8)

ax.set_xlabel("7-day incidence per 100'000 inhabitants", fontsize=23.5,
              color="#111111", labelpad=10)
ax.set_ylabel("week-to-week ratio of 7-day incidence (log scale)", fontsize=23.5,
              color="#111111", labelpad=8)

ax.text(0.0168, 0.966, "Cases increase \u2192", transform=ax.transAxes,
        fontsize=23.5, color="#7f7f7f", ha="left", va="center")
ax.text(0.0185, 0.0356, "Cases decrease \u2190", transform=ax.transAxes,
        fontsize=23.5, color="#7f7f7f", ha="left", va="center")

# region legend as coloured text
for i, (name, color) in enumerate(zip(region_names, region_colors)):
    fig.text(0.8315, 0.690 - i * 0.0325, name, color=color, fontsize=18.5,
             ha="left", va="center")

fig.savefig("out.png", dpi=100)
